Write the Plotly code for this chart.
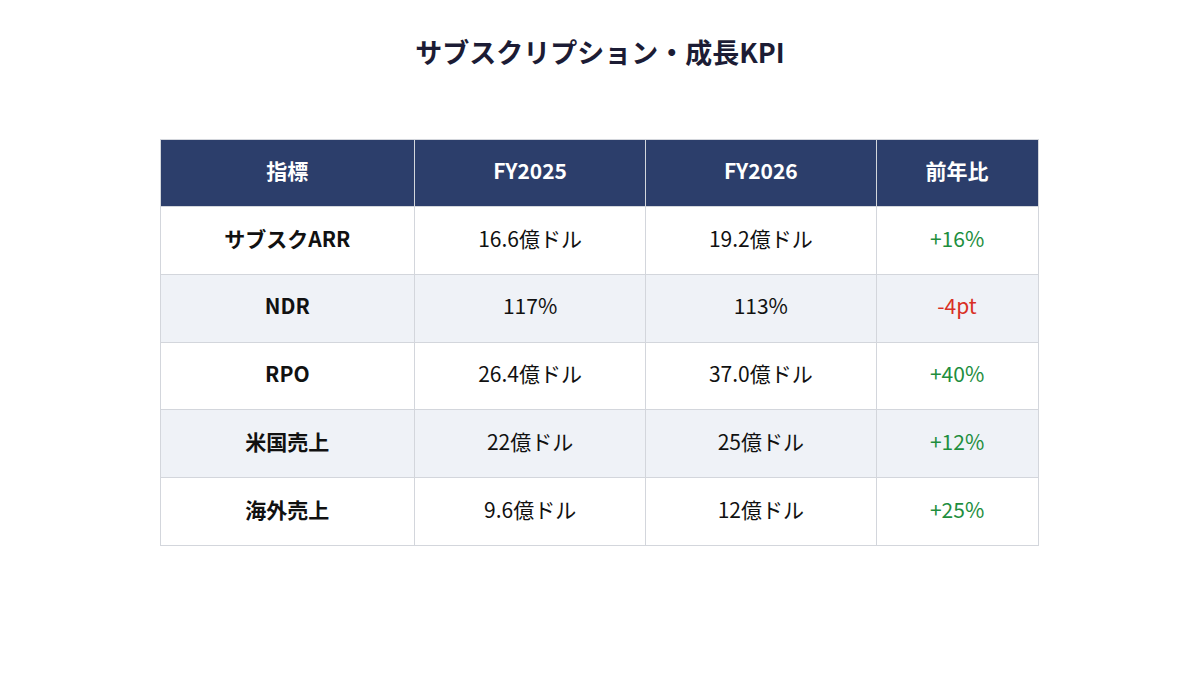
import plotly.graph_objects as go

headers = ["指標", "FY2025", "FY2026", "前年比"]
metrics = ["サブスクARR", "NDR", "RPO", "米国売上", "海外売上"]
fy2025 = ["16.6億ドル", "117%", "26.4億ドル", "22億ドル", "9.6億ドル"]
fy2026 = ["19.2億ドル", "113%", "37.0億ドル", "25億ドル", "12億ドル"]
yoy = ["+16%", "-4pt", "+40%", "+12%", "+25%"]

FONT = "Noto Sans CJK JP"
GREEN = "#1e8e3e"
RED = "#d93025"
DARK = "#111111"
LINE = "#d3d6dc"
n = len(metrics)
row_fill = ["#ffffff" if i % 2 == 0 else "#eff2f7" for i in range(n)]
yoy_colors = [RED if v.startswith("-") else GREEN for v in yoy]

W, H = 1200, 684
left, top = 152, 131
widths = [255, 231, 231, 162]
ROWH = 67.7
TEXT_SHIFT = 8

# background grid table (no text)
bg = go.Table(
    domain=dict(x=[left / W, (left + sum(widths)) / W], y=[0, 1 - top / H]),
    columnwidth=widths,
    header=dict(values=[""] * 4, fill_color="#2c3e6b",
                line=dict(color=LINE, width=1), height=ROWH),
    cells=dict(values=[[""] * n] * 4, fill_color=[row_fill] * 4,
               line=dict(color=LINE, width=1), height=ROWH),
)

# text table, shifted down for vertical centering
txt = go.Table(
    domain=dict(x=[left / W, (left + sum(widths)) / W],
                y=[0, 1 - (top + TEXT_SHIFT) / H]),
    columnwidth=widths,
    header=dict(
        values=[f"<b>{h}</b>" for h in headers],
        fill_color="rgba(0,0,0,0)",
        line=dict(color="rgba(0,0,0,0)", width=0),
        font=dict(family=FONT, size=21, color="white"),
        align="center", height=ROWH,
    ),
    cells=dict(
        values=[[f"<b>{m}</b>" for m in metrics],
                [f"<span>{v}</span>" for v in fy2025],
                [f"<span>{v}</span>" for v in fy2026],
                [f"<span>{v}</span>" for v in yoy]],
        fill_color="rgba(0,0,0,0)",
        line=dict(color="rgba(0,0,0,0)", width=0),
        font=dict(family=FONT, size=21,
                  color=[[DARK] * n, [DARK] * n, [DARK] * n, yoy_colors]),
        align="center", height=ROWH,
    ),
)

fig = go.Figure([bg, txt])
fig.update_layout(
    width=W, height=H,
    margin=dict(l=0, r=0, t=0, b=0),
    paper_bgcolor="white",
    title=dict(
        text="<b>サブスクリプション・成長KPI</b>",
        x=0.5 - 8 / W, xanchor="center",
        y=1 - 46 / H, yanchor="middle", yref="container",
        font=dict(family=FONT, size=27, color="#1c1c35"),
    ),
)

fig.write_html("out.html")
